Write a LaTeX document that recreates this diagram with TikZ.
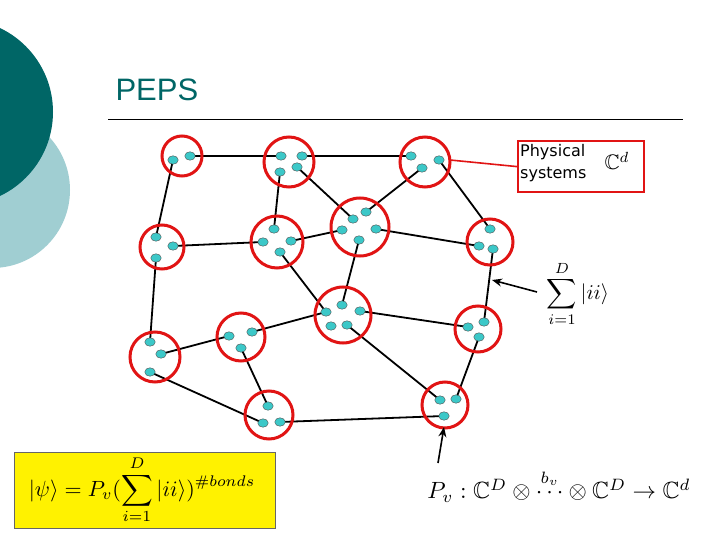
\documentclass[tikz,border=0pt]{standalone}
\usepackage{amsmath,amssymb}
\usepackage{fontspec}
\newfontfamily\arialf{Liberation Sans}
\newfontfamily\verdf{DejaVu Sans}
\usetikzlibrary{arrows.meta,shapes.geometric}
\definecolor{dteal}{RGB}{0,102,102}
\definecolor{lteal}{RGB}{160,206,210}
\definecolor{dotc}{RGB}{60,200,200}
\definecolor{ringred}{RGB}{225,20,20}
\tikzset{ring/.style={draw=ringred,line width=3pt},
 dt/.style={ellipse,draw=black!70,fill=dotc,line width=0.4pt,minimum width=10.5pt,minimum height=8.5pt,inner sep=0pt},
 bond/.style={line width=1.8pt},
 arr/.style={line width=1.6pt,-{Stealth[length=10pt,width=8pt]}}}
\begin{document}
\begin{tikzpicture}[x=1pt,y=-1pt]
\useasboundingbox (0,0) rectangle (720,540);
\fill[white] (0,0) rectangle (720,540);
\begin{scope}
\clip (0,0) rectangle (720,540);
\fill[lteal] (-8,190) circle (78);
\fill[dteal] (-40,112) circle (93);
\end{scope}
\node[anchor=west,text=dteal,font=\arialf\fontsize{31}{36}\selectfont] (title) at (112,90) {PEPS};
\draw[line width=1pt] (108,120) -- (683,120);
\foreach \n/\x/\y in {a1/173/160,a2/190/156,
 b1/281/156,b2/302/156,b3/280/172,b4/297/167,
 c1/411/156,c2/439/160,c3/422/168,
 d1/156/237,d2/173/246,d3/156/258,
 e1/274/229,e2/263/242,e3/291/241,e4/280/252,
 f1/353/219,f2/366/212,f3/342/230,f4/376/229,f5/359/240,
 g1/490/229,g2/479/246,g3/493/249,
 h1/342/305,h2/326/312,h3/360/311,h4/331/326,h5/347/325,
 i1/229/336,i2/252/332,i3/241/348,
 j1/468/327,j2/484/322,j3/479/337,
 k1/150/342,k2/161/354,k3/150/372,
 l1/268/406,l2/263/423,l3/280/422,
 m1/440/400,m2/456/399,m3/444/416}
 {\coordinate (\n) at (\x,\y);}
\foreach \u/\v in {a2/b1,a1/d1,b2/c1,b3/e1,b4/f1,c3/f2,c2/g1,d2/e2,e3/f3,f4/g2,f5/h1,e4/h2,d3/k1,g3/j2,h3/j1,h2/i2,h5/m1,i1/k2,i3/l1,k3/l2,l3/m3,j3/m2}
 {\draw[bond] (\u) -- (\v);}
\foreach \n/\x/\y/\r in {A/182/156/20,B/289/162/25,C/425/162/25,D/162/247/22,E/277/242/26,F/360/227/29,G/490/242/23,H/343/315/28,I/241/337/24,J/478/329/23,K/155/357/25,L/269/415/24,M/445/405/23}
 {\draw[ring] (\x,\y) circle (\r); \coordinate (\n) at (\x,\y);}
\foreach \n in {a1,a2,b1,b2,b3,b4,c1,c2,c3,d1,d2,d3,e1,e2,e3,e4,f1,f2,f3,f4,f5,g1,g2,g3,h1,h2,h3,h4,h5,i1,i2,i3,j1,j2,j3,k1,k2,k3,l1,l2,l3,m1,m2,m3}
 {\node[dt] at (\n) {};}
\node[draw=ringred,line width=2.2pt,minimum width=126pt,minimum height=51pt,anchor=north west] (phys) at (517,140) {};
\node[anchor=north west,align=left,font=\verdf\fontsize{16}{22}\selectfont,inner sep=0pt] (ptxt) at (520,144) {Physical\\systems};
\node[scale=2.1,transform shape] (cd) at (617,161) {$\mathbb{C}^d$};
\draw[ringred,line width=1.6pt] (450,160) -- (phys.west);
\node[scale=2.1,transform shape] (sum) at (578,294) {$\displaystyle\sum_{i=1}^{D}|ii\rangle$};
\coordinate (s0) at (537,292);
\coordinate (s1) at (492,280);
\draw[arr] (s0) -- (s1);
\node[scale=2.35,transform shape] (pv) at (559,486) {$P_v:\mathbb{C}^D\otimes\overset{b_v}{\cdots}\otimes\mathbb{C}^D\rightarrow\mathbb{C}^d$};
\coordinate (p0) at (438,463);
\coordinate (p1) at (444,427);
\draw[arr] (p0) -- (p1);
\node[draw=black!60,fill=yellow,minimum width=261pt,minimum height=76pt,anchor=north west] (yb) at (14,452) {};
\node[scale=2.2,transform shape] (psi) at (142,490) {$|\psi\rangle=P_v(\displaystyle\sum_{i=1}^{D}|ii\rangle)^{\#bonds}$};
\end{tikzpicture}
\end{document}
